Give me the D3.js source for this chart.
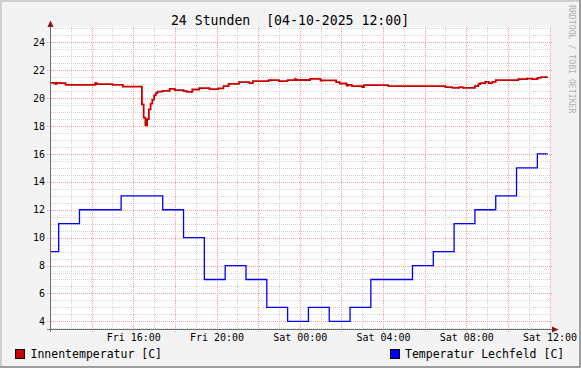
<!DOCTYPE html>
<html><head><meta charset="utf-8">
<script src="https://cdn.jsdelivr.net/npm/d3@7"></script>
<style>
html,body{margin:0;padding:0;background:#f3f3f3;}
svg{display:block;}
text{font-family:"DejaVu Sans Mono",monospace;}
</style></head>
<body>
<script>
// ---- data ----
const title = "24 Stunden  [04-10-2025 12:00]";
const watermark = "RRDTOOL / TOBI OETIKER";
const startTime = "2025-10-03T12:00:00";
const endTime = "2025-10-04T12:00:00";
const yTicks = [4, 6, 8, 10, 12, 14, 16, 18, 20, 22, 24];
const xLabelHours = [16, 20, 0, 4, 8, 12];
const seriesNames = ["Innentemperatur [C]", "Temperatur Lechfeld [C]"];
const seriesColors = ["#cc0000", "#0000ff"];
// Innentemperatur: minutes after start, value (step changes)
const redMinutes = [0, 15, 20, 30, 45, 130, 135, 180, 210, 265, 270, 275, 280, 285, 290, 295, 300, 305, 310,
  325, 345, 360, 385, 395, 410, 430, 460, 485, 500, 515, 545, 575, 585, 630, 660, 685, 705, 710, 750, 780, 785,
  825, 835, 855, 860, 870, 900, 905, 975, 1140, 1160, 1180, 1190, 1225, 1235, 1240, 1255, 1265, 1275, 1285,
  1350, 1375, 1390, 1405, 1415, 1435];
const redValues = [21.10, 21.02, 21.10, 21.07, 20.95, 21.07, 21.00, 20.95, 20.83, 19.55, 18.60, 18.05, 18.50, 19.20, 19.60, 19.90, 20.20, 20.36, 20.47,
  20.52, 20.67, 20.57, 20.50, 20.45, 20.62, 20.72, 20.65, 20.70, 20.86, 21.02, 21.15, 21.08, 21.22, 21.29, 21.22, 21.29, 21.36, 21.30, 21.38, 21.25, 21.28,
  21.15, 21.05, 20.90, 20.95, 20.86, 20.80, 20.93, 20.86, 20.79, 20.74, 20.79, 20.74, 20.86, 21.00, 21.07, 21.17, 21.07, 21.17, 21.29,
  21.36, 21.40, 21.36, 21.45, 21.50, 21.50];
// Temperatur Lechfeld: hourly readings (minutes after start)
const blueMinutes = [0, 25, 85, 145, 205, 265, 325, 385, 445, 505, 565, 625, 685, 745, 805, 865, 925, 985, 1045, 1105, 1165, 1225, 1285, 1345, 1405, 1435];
const blueValues = [9, 11, 12, 12, 13, 13, 12, 10, 7, 8, 7, 5, 4, 5, 4, 5, 7, 7, 8, 9, 11, 12, 13, 15, 16, 16];

// ---- layout ----
const W = 581, H = 368;
const t0 = new Date(startTime), t1 = new Date(endTime);
const x = d3.scaleTime().domain([t0, t1]).range([50, 549.5]);
const y = d3.scaleLinear().domain([3.45, 25.1]).range([329, 27]);
const tAt = m => new Date(t0.getTime() + m * 60000);

const svg = d3.select("body").append("svg").attr("width", W).attr("height", H);
// frame
svg.append("rect").attr("width", W).attr("height", H).attr("fill", "#f3f3f3");
svg.append("rect").attr("x", 0).attr("y", 0).attr("width", W).attr("height", 2).attr("fill", "#cfcfcf");
svg.append("rect").attr("x", 0).attr("y", 0).attr("width", 2).attr("height", H).attr("fill", "#cfcfcf");
svg.append("rect").attr("x", W - 2).attr("y", 0).attr("width", 2).attr("height", H).attr("fill", "#9d9d9d");
svg.append("rect").attr("x", 0).attr("y", H - 2).attr("width", W).attr("height", 2).attr("fill", "#9d9d9d");

// canvas
svg.append("rect").attr("x", 51).attr("y", 27).attr("width", 499.5).attr("height", 302).attr("fill", "#ffffff");

const g = svg.append("g").attr("shape-rendering", "crispEdges");
// minor horizontal grid every 0.5
const minorY = d3.range(3.5, 25.01, 0.5).filter(v => Math.abs(v % 2) > 1e-6);
g.selectAll(".mgy").data(minorY).join("line")
  .attr("x1", 51).attr("x2", 550).attr("y1", d => Math.round(y(d)) + 0.5).attr("y2", d => Math.round(y(d)) + 0.5)
  .attr("stroke", "#d2d2d2").attr("stroke-dasharray", "1,1");
// minor vertical grid every hour
const hours = d3.timeHour.range(t0, tAt(1441));
g.selectAll(".mgx").data(hours.filter(d => d.getHours() % 2 === 1)).join("line")
  .attr("x1", d => Math.round(x(d)) + 0.5).attr("x2", d => Math.round(x(d)) + 0.5).attr("y1", 27).attr("y2", 329)
  .attr("stroke", "#d2d2d2").attr("stroke-dasharray", "1,1");
// major vertical grid every 2h
const major = hours.filter(d => d.getHours() % 2 === 0 && d > t0);
g.selectAll(".Mgx").data(major).join("line")
  .attr("x1", d => Math.round(x(d)) + 0.5).attr("x2", d => Math.round(x(d)) + 0.5).attr("y1", 27).attr("y2", 332)
  .attr("stroke", "#f0a0a0").attr("stroke-dasharray", "1,1");
// major horizontal grid
g.selectAll(".Mgy").data(yTicks).join("line")
  .attr("x1", 47).attr("x2", 552).attr("y1", d => Math.round(y(d)) + 0.5).attr("y2", d => Math.round(y(d)) + 0.5)
  .attr("stroke", "#f0a0a0").attr("stroke-dasharray", "1,1");

// y labels
svg.selectAll(".yl").data(yTicks).join("text")
  .attr("x", 45).attr("y", d => y(d) + 3.6).attr("text-anchor", "end")
  .attr("font-size", "10px").attr("fill", "#000").text(d => d);
// x labels
const fmt = d3.timeFormat("%a %H:%M");
const labTimes = major.filter(d => xLabelHours.includes(d.getHours()) && d.getHours() % 4 === 0);
svg.selectAll(".xl").data(labTimes).join("text")
  .attr("x", d => x(d) + 0.5).attr("y", 341).attr("text-anchor", "middle")
  .attr("font-size", "10px").attr("fill", "#000").text(d => fmt(d));

// series
const stepLine = d3.line().curve(d3.curveStepAfter).x(d => x(tAt(d[0]))).y(d => y(d[1]));
const blueData = blueMinutes.map((m, i) => [m, blueValues[i]]);
const redData = redMinutes.map((m, i) => [m, redValues[i]]);
svg.append("path").datum(blueData).attr("d", stepLine).attr("fill", "none")
  .attr("stroke", seriesColors[1]).attr("stroke-width", 1.3);
svg.append("path").datum(redData).attr("d", stepLine).attr("fill", "none")
  .attr("stroke", seriesColors[0]).attr("stroke-width", 1.8);

// axes
const ax = svg.append("g").attr("shape-rendering", "crispEdges");
ax.append("line").attr("x1", 50.5).attr("x2", 50.5).attr("y1", 25).attr("y2", 332).attr("stroke", "#707070");
ax.append("line").attr("x1", 47).attr("x2", 554).attr("y1", 329.5).attr("y2", 329.5).attr("stroke", "#707070");
svg.append("path").attr("d", "M47.5,27 L53.5,27 L50.5,20.5 Z").attr("fill", "#8b1010");
svg.append("path").attr("d", "M552,326.5 L552,332.5 L558.5,329.5 Z").attr("fill", "#8b1010");

// title
svg.append("text").attr("x", 290).attr("y", 24.5).attr("text-anchor", "middle")
  .attr("font-size", "13.2px").attr("fill", "#000").attr("xml:space", "preserve").style("white-space", "pre").text(title);

// watermark
svg.append("text").attr("transform", "translate(568.5,5) rotate(90)")
  .attr("font-size", "8.2px").attr("fill", "#b0b0b0").text(watermark);

// legend
const legX = [15, 389.5];
seriesNames.forEach((n, i) => {
  svg.append("rect").attr("x", legX[i] + 0.5).attr("y", 349.5).attr("width", 9).attr("height", 9)
    .attr("fill", seriesColors[i]).attr("stroke", "#000").attr("stroke-width", 1).attr("shape-rendering", "crispEdges");
  svg.append("text").attr("x", legX[i] + 15.5).attr("y", 358).attr("font-size", "11.5px").attr("fill", "#000").text(n);
});
</script>
</body></html>
